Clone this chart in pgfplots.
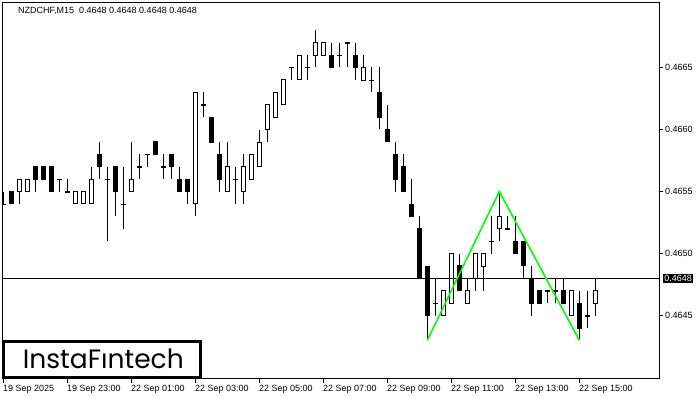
\documentclass[border=0pt]{standalone}
\usepackage{pgfplots}
\pgfplotsset{compat=1.18}
\usepackage{pgfplotstable}
\usepackage{fontspec}
\setmainfont{Liberation Sans}
\newfontfamily\logofont{Poppins}

\pgfplotstableread{
i O H L C
0 0.4654 0.4655 0.4654 0.4654
1 0.4655 0.4655 0.4654 0.4654
2 0.4655 0.4656 0.4654 0.4656
3 0.4655 0.4656 0.4655 0.4656
4 0.4657 0.4657 0.4655 0.4656
5 0.4657 0.4657 0.4656 0.4656
6 0.4657 0.4657 0.4655 0.4655
7 0.4656 0.4656 0.4655 0.4656
8 0.4655 0.4656 0.4655 0.4655
9 0.4654 0.4655 0.4654 0.4655
10 0.4654 0.4655 0.4654 0.4655
11 0.4654 0.4657 0.4654 0.4656
12 0.4658 0.4659 0.4656 0.4657
13 0.4656 0.4657 0.4651 0.4656
14 0.4657 0.4657 0.4653 0.4655
15 0.4654 0.4657 0.4652 0.4654
16 0.4655 0.4659 0.4655 0.4656
17 0.4657 0.4658 0.4656 0.4657
18 0.4658 0.4658 0.4657 0.4658
19 0.4659 0.4659 0.4658 0.4658
20 0.4657 0.4658 0.4656 0.4657
21 0.4658 0.4658 0.4656 0.4657
22 0.4656 0.4657 0.4655 0.4655
23 0.4656 0.4656 0.4654 0.4655
24 0.4654 0.4663 0.4653 0.4663
25 0.4662 0.4663 0.4661 0.4662
26 0.4661 0.4661 0.4659 0.4659
27 0.4658 0.4659 0.4655 0.4656
28 0.4655 0.4659 0.4655 0.4657
29 0.4656 0.4657 0.4654 0.4656
30 0.4655 0.4658 0.4654 0.4657
31 0.4656 0.4658 0.4656 0.4658
32 0.4657 0.4660 0.4657 0.4659
33 0.4660 0.4662 0.4659 0.4662
34 0.4661 0.4663 0.4661 0.4663
35 0.4662 0.4664 0.4662 0.4664
36 0.4665 0.4665 0.4664 0.4665
37 0.4664 0.4666 0.4664 0.4666
38 0.4665 0.4666 0.4664 0.4665
39 0.4666 0.4668 0.4665 0.4667
40 0.4666 0.4667 0.4666 0.4667
41 0.4666 0.4667 0.4665 0.4665
42 0.4666 0.4667 0.4665 0.4666
43 0.4667 0.4667 0.4665 0.4667
44 0.4666 0.4667 0.4664 0.4665
45 0.4664 0.4666 0.4664 0.4665
46 0.4664 0.4665 0.4663 0.4664
47 0.4663 0.4665 0.4660 0.4661
48 0.4660 0.4662 0.4659 0.4659
49 0.4658 0.4659 0.4655 0.4656
50 0.4657 0.4658 0.4655 0.4655
51 0.4654 0.4656 0.4653 0.4653
52 0.4652 0.4653 0.4648 0.4648
53 0.4649 0.4649 0.4643 0.4645
54 0.4646 0.4648 0.4645 0.4646
55 0.4645 0.4647 0.4645 0.4647
56 0.4646 0.4650 0.4646 0.4650
57 0.4649 0.4650 0.4647 0.4647
58 0.4646 0.4648 0.4646 0.4647
59 0.4648 0.4650 0.4647 0.4650
60 0.4649 0.4650 0.4647 0.4650
61 0.4651 0.4653 0.4650 0.4651
62 0.4652 0.4655 0.4651 0.4653
63 0.4652 0.4653 0.4652 0.4652
64 0.4651 0.4653 0.4650 0.4650
65 0.4651 0.4651 0.4648 0.4649
66 0.4648 0.4649 0.4645 0.4646
67 0.4647 0.4647 0.4646 0.4646
68 0.4647 0.4647 0.4646 0.4647
69 0.4647 0.4648 0.4646 0.4647
70 0.4647 0.4648 0.4646 0.4646
71 0.4645 0.4647 0.4645 0.4647
72 0.4646 0.4647 0.4643 0.4644
73 0.4645 0.4647 0.4644 0.4645
74 0.4646 0.4648 0.4645 0.4647
}\candles

\definecolor{patgreen}{RGB}{0,255,0}

\begin{document}
\begin{tikzpicture}[x=1pt,y=1pt]
\path[use as bounding box] (0,0) rectangle (700,400);
\fill[white] (0,0) rectangle (700,400);
\begin{axis}[
  at={(2.5pt,21.5pt)}, anchor=south west,
  scale only axis, width=656.5pt, height=376pt,
  xmin=-0.1, xmax=81.96, ymin=0.4639919, ymax=0.4670242,
  axis line style={line width=1pt},
  xtick pos=left, ytick pos=right,
  yticklabel pos=right,
  tick align=outside, major tick length=4pt,
  tick style={black, line width=1pt},
  xtick={0,8,...,72},
  xticklabels={19 Sep 2025, 19 Sep 23:00, 22 Sep 01:00, 22 Sep 03:00, 22 Sep 05:00, 22 Sep 07:00, 22 Sep 09:00, 22 Sep 11:00, 22 Sep 13:00, 22 Sep 15:00},
  ytick={0.4645,0.4650,0.4655,0.4660,0.4665},
  yticklabels={0.4645,0.4650,0.4655,0.4660,0.4665},
  ticklabel style={font=\fontsize{9}{10}\selectfont},
  xticklabel style={anchor=north west, inner sep=0pt, xshift=-0.5pt, yshift=-2.5pt},
  yticklabel style={anchor=west, inner sep=0pt, xshift=2pt},
  clip=true,
]
% wicks
\addplot[forget plot, draw=none, mark=none,
  error bars/.cd, y dir=plus, y explicit, error mark=none,
  error bar style={draw=black, line width=1pt, line cap=butt}]
  table[x=i, y=L, y error expr={\thisrow{H}-\thisrow{L}}] {\candles};
% bodies (outline / black fill)
\addplot[forget plot, draw=none, mark=none,
  error bars/.cd, y dir=both, y explicit, error mark=none,
  error bar style={draw=black, line width=5pt, line cap=butt}]
  table[x=i, y expr={(\thisrow{O}+\thisrow{C})/2}, y error expr={abs(\thisrow{C}-\thisrow{O})/2+0.00000403}] {\candles};
% white interior of rising candles
\addplot[forget plot, draw=none, mark=none,
  restrict expr to domain={\thisrow{C}-\thisrow{O}}{0.00005:1},
  error bars/.cd, y dir=both, y explicit, error mark=none,
  error bar style={draw=white, line width=3pt, line cap=butt}]
  table[x=i, y expr={(\thisrow{O}+\thisrow{C})/2}, y error expr={(\thisrow{C}-\thisrow{O})/2-0.00000403}] {\candles};
% current price line
\addplot[forget plot, black, line width=1pt] coordinates {(-0.1,0.4648) (81.96,0.4648)};
% double top pattern
\addplot[forget plot, patgreen, line width=1.6pt] coordinates {(53,0.4643) (62,0.4655) (72,0.4643)};
\coordinate (pricetag) at (axis cs:81.96,0.4648);
\end{axis}
\node[fill=black, text=white, anchor=west, inner sep=1.6pt, font=\fontsize{9}{10}\selectfont] at ([xshift=3.5pt]pricetag) {0.4648};
\node[anchor=base west, inner sep=0pt, font=\fontsize{9}{10}\selectfont] at (18,386) {NZDCHF,M15\ \ 0.4648 0.4648 0.4648 0.4648};
\draw[line width=2.6pt, fill=white] (4,22.6) rectangle (200.4,58.7);
\node[anchor=base west, inner sep=0pt, font=\logofont\fontsize{26.5}{28}\selectfont] at (22.7,31.2) {InstaFıntech};
\end{tikzpicture}
\end{document}
